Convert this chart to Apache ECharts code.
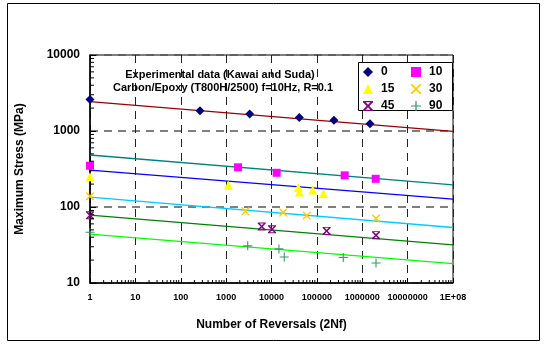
<!DOCTYPE html>
<html>
<head>
<meta charset="utf-8">
<script src="https://cdn.jsdelivr.net/npm/echarts@6/dist/echarts.min.js"></script>
<style>
  html, body { margin: 0; padding: 0; background: #fff; }
  #chart01 { width: 547px; height: 344px; }
</style>
</head>
<body>
<div id="chart01"></div>
<script>
// 数据 - fibre angle series, N = number of reversals, S = max stress (MPa)
var angles = ['0', '10', '15', '30', '45', '90'];

var n0 = [1, 266, 3310, 41000, 238000, 1480000];
var s0 = [2590, 1850, 1680, 1500, 1385, 1250];
var n10 = [1, 1830, 13000, 410000, 1980000];
var s10 = [349, 333, 282, 261, 235];
var n15 = [1, 1120, 39000, 41000, 81000, 139000];
var s15 = [250, 194, 181, 158, 167, 151];
var n30 = [1, 2650, 18200, 59700, 2010000];
var s30 = [139, 88, 84.7, 77.4, 70.7];
var n45 = [1, 6080, 10260, 164000, 2010000];
var s45 = [78, 55.5, 51, 48.5, 42.6];
var n90 = [1, 2990, 14600, 19100, 382000, 2010000];
var s90 = [46.6, 30.8, 28.1, 22, 21.6, 18.3];

// fitted lines, value at N=1 and at N=1E+08
var fitN = [1, 1e8];
var fit0 = [2440, 990];
var fit10 = [483, 196];
var fit15 = [306, 127];
var fit30 = [135, 53.7];
var fit45 = [78.2, 31.7];
var fit90 = [43.9, 18.0];

var xTicks = [1, 10, 100, 1000, 10000, 100000, 1000000, 10000000, 100000000];
var yTicks = [10, 100, 1000, 10000];

function pairs(xs, ys) {
  return xs.map(function (x, i) { return [x, ys[i]]; });
}

// minor tick values 2..9 per decade
var xMinor = [], yMinor = [];
for (var d = 0; d < xTicks.length - 1; d++) {
  for (var m = 2; m < 10; m++) xMinor.push([m * xTicks[d], 10]);
}
for (var d = 0; d < yTicks.length - 1; d++) {
  for (var m = 2; m < 10; m++) yMinor.push([1, m * yTicks[d]]);
}

var xPath = 'M0,0 L1.3,0 L5,3.7 L8.7,0 L10,0 L10,1.3 L6.3,5 L10,8.7 L10,10 L8.7,10 L5,6.3 L1.3,10 L0,10 L0,8.7 L3.7,5 L0,1.3 Z';
var symX = 'path://' + xPath;
var symStar = 'path://' + xPath + ' M1,0 L9,0 L9,1.2 L1,1.2 Z M1,8.8 L9,8.8 L9,10 L1,10 Z';
var symPlus = 'path://M4.4,0 L5.6,0 L5.6,4.4 L10,4.4 L10,5.6 L5.6,5.6 L5.6,10 L4.4,10 L4.4,5.6 L0,5.6 L0,4.4 L4.4,4.4 Z';

var markers = [
  { n: n0, s: s0, fit: fit0, color: '#000080', line: '#990000', symbol: 'diamond', size: 9 },
  { n: n10, s: s10, fit: fit10, color: '#ff00ff', line: '#008080', symbol: 'rect', size: 8 },
  { n: n15, s: s15, fit: fit15, color: '#ffff00', line: '#0000ff', symbol: 'triangle', size: 9 },
  { n: n30, s: s30, fit: fit30, color: '#ffcc00', line: '#00ccff', symbol: symX, size: 8 },
  { n: n45, s: s45, fit: fit45, color: '#800080', line: '#008000', symbol: symStar, size: 8 },
  { n: n90, s: s90, fit: fit90, color: '#339966', line: '#00ff00', symbol: symPlus, size: 9 }
];

var series = [];
markers.forEach(function (m, i) {
  series.push({
    name: angles[i] + ' fit',
    type: 'line',
    data: pairs(fitN, m.fit),
    symbol: 'none',
    silent: true,
    lineStyle: { color: m.line, width: 1.3 },
    z: 2
  });
});
markers.forEach(function (m, i) {
  series.push({
    name: angles[i],
    type: 'scatter',
    data: pairs(m.n, m.s),
    symbol: m.symbol,
    symbolSize: m.size,
    itemStyle: { color: m.color, opacity: 1 },
    z: 3
  });
});
// 小刻度
series.push({
  type: 'custom',
  silent: true,
  data: yMinor,
  renderItem: function (params, api) {
    var p = api.coord([api.value(0), api.value(1)]);
    return { type: 'line', shape: { x1: p[0], y1: p[1], x2: p[0] + 4, y2: p[1] }, style: { stroke: '#000', lineWidth: 1 } };
  },
  z: 4
});
series.push({
  type: 'custom',
  silent: true,
  data: xMinor,
  renderItem: function (params, api) {
    var p = api.coord([api.value(0), api.value(1)]);
    return { type: 'line', shape: { x1: p[0], y1: p[1], x2: p[0], y2: p[1] - 3 }, style: { stroke: '#000', lineWidth: 1 } };
  },
  z: 4
});

var chart01 = echarts.init(document.getElementById('chart01'), null, { renderer: 'canvas' });
var legendText = { fontSize: 12, fontWeight: 'bold', color: '#000', fontFamily: 'Arial', padding: [0, 0, 0, 3] };
var option = {
  backgroundColor: '#fff',
  animation: false,
  grid: {
    left: 90,
    right: 94,
    top: 55,
    bottom: 61,
    show: true,
    borderColor: '#000',
    borderWidth: 1,
    backgroundColor: 'transparent'
  },
  // 图例
  legend: [
    {
      data: ['0', '15', '45'],
      orient: 'vertical',
      left: 363,
      top: 66,
      itemGap: 5,
      itemWidth: 10,
      itemHeight: 10,
      padding: 0,
      textStyle: legendText,
      selectedMode: false
    },
    {
      data: ['10', '30', '90'],
      orient: 'vertical',
      left: 411,
      top: 66,
      itemGap: 5,
      itemWidth: 10,
      itemHeight: 10,
      padding: 0,
      textStyle: legendText,
      selectedMode: false
    }
  ],
  graphic: [
    {
      type: 'rect',
      shape: { x: 7.5, y: 3.5, width: 532, height: 337 },
      style: { fill: 'none', stroke: '#000', lineWidth: 1 },
      silent: true
    },
    {
      type: 'rect',
      shape: { x: 358.5, y: 62.5, width: 94, height: 48 },
      style: { fill: '#fff', stroke: '#000', lineWidth: 1 },
      z: 3
    },
    {
      type: 'text',
      style: { text: 'Experimental data (Kawai and Suda)', x: 220, y: 75, font: 'bold 11px Arial', textAlign: 'center', textVerticalAlign: 'middle', fill: '#000' },
      z: 5
    },
    {
      type: 'text',
      style: { text: 'Carbon/Epoxy (T800H/2500) f=10Hz, R=0.1', x: 223, y: 88, font: 'bold 11px Arial', textAlign: 'center', textVerticalAlign: 'middle', fill: '#000' },
      z: 5
    }
  ],
  // x轴
  xAxis: {
    type: 'log',
    logBase: 10,
    min: 1,
    max: 1e8,
    name: 'Number of Reversals (2Nf)',
    nameLocation: 'middle',
    nameGap: 36,
    nameTextStyle: { fontSize: 12, fontWeight: 'bold', color: '#000', fontFamily: 'Arial' },
    axisLine: { lineStyle: { color: '#000', width: 1.5 } },
    axisTick: { inside: true, length: 5, lineStyle: { color: '#000' } },
    axisLabel: {
      fontSize: 9,
      fontWeight: 'bold',
      color: '#000',
      fontFamily: 'Arial',
      margin: 10,
      formatter: function (v) { return v >= 1e8 ? '1E+08' : String(Math.round(v)); }
    },
    splitLine: { show: true, lineStyle: { color: '#222', width: 1, type: [8, 6] } }
  },
  // y轴
  yAxis: {
    type: 'log',
    logBase: 10,
    min: 10,
    max: 10000,
    name: 'Maximum Stress (MPa)',
    nameLocation: 'middle',
    nameGap: 64,
    nameTextStyle: { fontSize: 12, fontWeight: 'bold', color: '#000', fontFamily: 'Arial' },
    axisLine: { lineStyle: { color: '#000', width: 1.5 } },
    axisTick: { inside: true, length: 6, lineStyle: { color: '#000' } },
    axisLabel: {
      fontSize: 12,
      fontWeight: 'bold',
      color: '#000',
      fontFamily: 'Arial',
      margin: 10,
      formatter: function (v) { return String(Math.round(v)); }
    },
    splitLine: { show: true, lineStyle: { color: '#555', width: 1.5, type: [8, 6] } }
  },
  series: series
};
chart01.setOption(option);

window.addEventListener('resize', function () {
  chart01.resize();
});
</script>
</body>
</html>
